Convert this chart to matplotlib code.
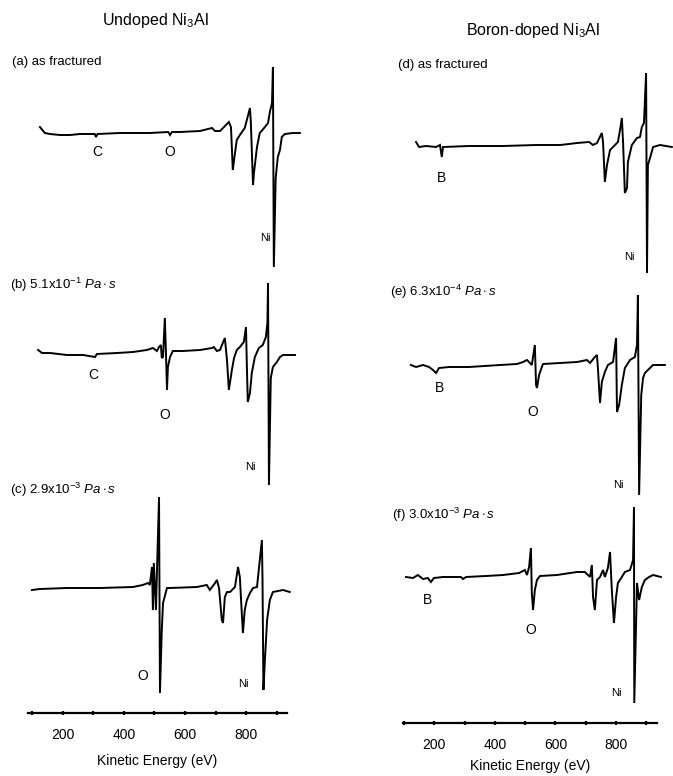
import numpy as np
import matplotlib
matplotlib.use("Agg")
import matplotlib.pyplot as plt

plt.rcParams['font.family'] = ['Liberation Sans', 'DejaVu Sans']
plt.rcParams['mathtext.fontset'] = 'custom'
plt.rcParams['mathtext.rm'] = 'Liberation Sans'
plt.rcParams['mathtext.it'] = 'Liberation Sans:italic'

# ---------------- data (kinetic energy in eV, dN/dE in arbitrary units) ----------------
E_a = [126, 142, 159, 191, 224, 257, 289, 305, 309, 314, 387, 485, 545, 551, 557, 583, 649, 688,
       698, 714, 724, 743, 750, 756, 760, 769, 779, 795, 812, 815, 822, 825, 835, 844, 861, 871,
       877, 884, 887, 890, 896, 903, 910, 916, 926, 952, 975]
I_a = [6, 0, -1, -2, -2, -1, -1, -1, -4, -1, 0, 0, 1, -2, 1, 1, 2, 5,
       2, 2, 5, 11, 6, -37, -27, -7, -2, 5, 25, 10, -52, -40, -14, 0, 6, 10,
       21, 30, 66, -134, -45, -24, -17, -4, -1, 0, 0]

E_b = [120, 133, 159, 214, 267, 306, 312, 378, 430, 475, 495, 508, 515, 521, 524, 528, 534, 538,
       541, 544, 551, 560, 593, 649, 688, 694, 704, 714, 730, 737, 743, 753, 760, 769, 779, 792,
       799, 802, 805, 812, 818, 828, 841, 854, 864, 869, 871, 874, 880, 887, 900, 910, 920, 959]
I_b = [3, 0, 0, -2, -2, -4, -1, 0, 1, 3, 5, 2, 6, 8, -5, -4, 35, -4,
       -37, -14, -4, 2, 2, 3, 5, 6, 2, 3, 15, -7, -37, -17, -5, 3, 6, 11,
       26, -14, -49, -40, -20, -4, 5, 8, 16, 30, 70, -132, -25, -14, -9, -4, -2, -2]

E_c = [100, 126, 214, 322, 430, 462, 479, 485, 492, 495, 498, 505, 508, 515, 518, 524, 528, 541,
       551, 639, 671, 681, 698, 704, 711, 720, 724, 730, 737, 747, 763, 773, 779, 786, 789, 795,
       802, 812, 822, 835, 851, 853, 856, 861, 868, 877, 887, 920, 942]
I_c = [-1, 0, 1, 1, 2, 4, 6, 4, 22, -21, 26, -21, 15, 92, -104, -41, -14, 1,
       1, 2, 4, -1, 6, 9, 1, -31, -34, -8, -3, -3, 2, 22, 12, -28, -44, -21,
       -11, -4, 1, 2, 49, 10, -101, -70, -31, -11, -3, -1, -3]

E_d = [140, 150, 173, 206, 219, 225, 229, 315, 427, 536, 615, 645, 671, 711, 724, 737, 753, 757,
       763, 770, 780, 790, 806, 813, 819, 823, 829, 836, 839, 852, 869, 879, 885, 892, 899, 902,
       905, 912, 922, 945, 984]
I_d = [4, -1, 0, -1, 1, -11, -1, 0, 0, 1, 1, 2, 3, 4, 1, 3, 13, 4,
       -36, -19, -4, -1, 4, 16, 28, 4, -47, -42, -16, 1, 8, 9, 19, 23, 73, -127,
       -19, -12, -1, 1, -1]

E_e = [123, 140, 163, 183, 196, 206, 216, 249, 315, 417, 473, 493, 506, 516, 522, 532, 536, 539,
       546, 555, 559, 615, 671, 704, 714, 730, 737, 740, 747, 753, 763, 773, 790, 800, 803, 810,
       819, 829, 846, 862, 869, 872, 876, 883, 889, 895, 905, 922, 961]
I_e = [0, -2, 0, -2, -5, -8, -3, -2, -2, 0, 1, 3, 5, 2, 0, 20, -20, -23,
       -10, -2, 1, 2, 3, 5, 2, 8, 10, -3, -38, -17, -7, 0, 3, 27, -47, -40,
       -20, -3, 5, 8, 20, 70, -130, -30, -13, -8, -5, 0, 0]

E_f = [107, 130, 146, 163, 179, 189, 199, 229, 288, 295, 305, 371, 427, 480, 499, 506, 513, 519,
       522, 526, 532, 539, 549, 605, 671, 697, 714, 720, 724, 730, 737, 747, 757, 763, 773, 780,
       786, 793, 800, 806, 819, 829, 846, 856, 859, 860, 869, 876, 885, 895, 909, 922, 948]
I_f = [0, -1, 2, -2, -1, -5, -1, 0, 0, -2, 0, 1, 2, 4, 7, 2, 10, 29,
       -16, -33, -13, -3, 1, 2, 5, 5, 0, 12, -20, -33, -3, 0, 7, 0, 9, 25,
       -13, -46, -20, -6, 0, 5, 7, 17, 70, -126, -6, -23, -10, -3, 0, 2, 0]

tick_values = [200, 400, 600, 800]
minor_values = [100, 300, 500, 700, 900]

# ---------------- layout ----------------
W, H = 673, 776
fig = plt.figure(figsize=(W / 100, H / 100), dpi=100)


def fx(px):
    return px / W


def fy(py):
    return 1 - py / H


def make_axes(x0, x1, ybot, ytop, xlim, labelpad):
    ax = fig.add_axes([fx(x0), fy(ybot), fx(x1) - fx(x0), (ybot - ytop) / H])
    ax.set_xlim(*xlim)
    ax.set_ylim(0, ybot - ytop)
    for s in ['top', 'left', 'right']:
        ax.spines[s].set_visible(False)
    ax.spines['bottom'].set_linewidth(1.6)
    ax.set_yticks([])
    ax.set_xticks(tick_values)
    ax.set_xticks(minor_values, minor=True)
    ax.tick_params(axis='x', which='both', direction='inout', length=3, width=1.6,
                   labelsize=10, pad=9)
    ax.set_facecolor('none')
    ax.set_xlabel('Kinetic Energy (eV)', fontsize=10, labelpad=labelpad)
    return ax


axL = make_axes(28, 287, 713, 40, (87, 933), 9)
axR = make_axes(403, 657, 723, 40, (97, 935), 5)

lw = 1.4
for ax, E, I, base in [(axL, E_a, I_a, 713 - 133), (axL, E_b, I_b, 713 - 353),
                       (axL, E_c, I_c, 713 - 589),
                       (axR, E_d, I_d, 723 - 146), (axR, E_e, I_e, 723 - 365),
                       (axR, E_f, I_f, 723 - 577)]:
    ax.plot(E, np.array(I) + base, color='black', lw=lw, clip_on=False,
            solid_joinstyle='miter')

# ---------------- text ----------------
def t(px, py, s, size, ha='left', va='center', **kw):
    fig.text(fx(px), fy(py), s, fontsize=size, ha=ha, va=va, **kw)

t(155, 20, 'Undoped Ni$_3$Al', 11.5, ha='center')
t(533, 30, 'Boron-doped Ni$_3$Al', 11.5, ha='center')

t(12, 62, '(a) as fractured', 9.5)
t(10, 285, '(b) 5.1x10$^{-1}$ $Pa\\cdot s$', 9.5)
t(10, 490, '(c) 2.9x10$^{-3}$ $Pa\\cdot s$', 9.5)
t(398, 65, '(d) as fractured', 9.5)
t(390, 292, '(e) 6.3x10$^{-4}$ $Pa\\cdot s$', 9.5)
t(392, 515, '(f) 3.0x10$^{-3}$ $Pa\\cdot s$', 9.5)

t(97, 152, 'C', 10, ha='center')
t(170, 152, 'O', 10, ha='center')
t(265, 238, 'Ni', 8, ha='center')
t(93, 375, 'C', 10, ha='center')
t(165, 415, 'O', 10, ha='center')
t(250, 467, 'Ni', 8, ha='center')
t(143, 676, 'O', 10, ha='center')
t(243, 684, 'Ni', 8, ha='center')

t(442, 178, 'B', 10, ha='center')
t(629, 257, 'Ni', 8, ha='center')
t(439, 388, 'B', 10, ha='center')
t(533, 412, 'O', 10, ha='center')
t(618, 485, 'Ni', 8, ha='center')
t(428, 600, 'B', 10, ha='center')
t(531, 630, 'O', 10, ha='center')
t(616, 693, 'Ni', 8, ha='center')

fig.savefig('out.png', dpi=100)
